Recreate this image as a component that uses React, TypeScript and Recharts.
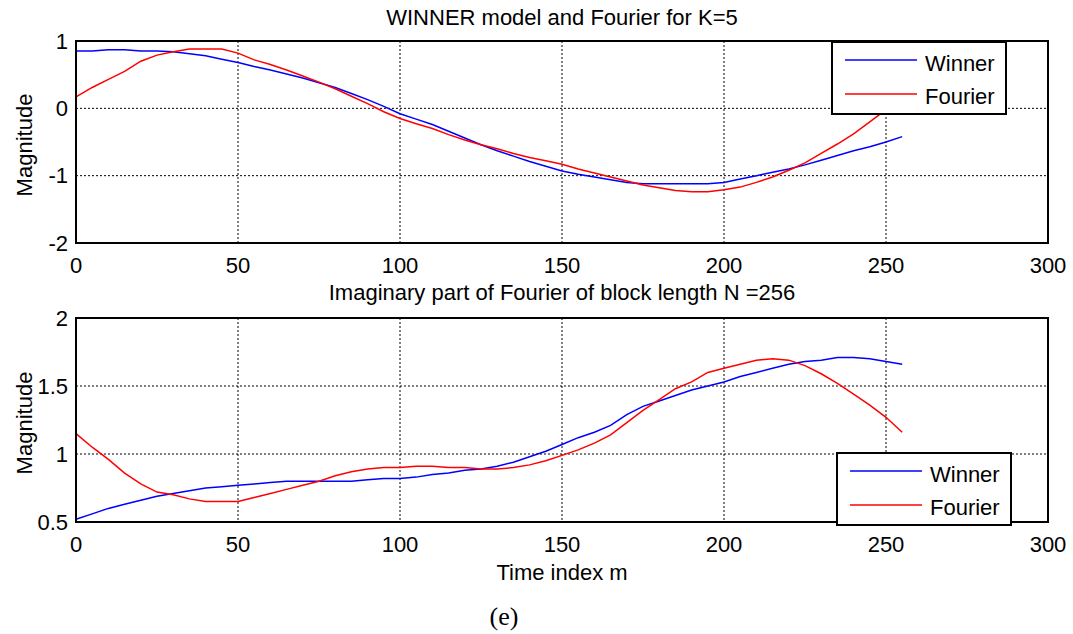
import { LineChart, Line, XAxis, YAxis, CartesianGrid, Legend, ReferenceArea } from 'recharts';

// time index m (samples read every 5 steps off the figure)
const TIME_INDEX = [
  0, 5, 10, 15, 20, 25, 30, 35, 40, 45, 50, 55, 60, 65, 70, 75, 80, 85, 90, 95,
  100, 105, 110, 115, 120, 125, 130, 135, 140, 145, 150, 155, 160, 165, 170, 175,
  180, 185, 190, 195, 200, 205, 210, 215, 220, 225, 230, 235, 240, 245, 250, 255,
];

// top panel: WINNER model and Fourier for K=5
const TOP_WINNER = [
  0.85, 0.85, 0.87, 0.87, 0.85, 0.85, 0.84, 0.81, 0.78, 0.73, 0.68, 0.62, 0.57, 0.51, 0.45, 0.38, 0.31, 0.22, 0.13, 0.03,
  -0.08, -0.16, -0.24, -0.34, -0.44, -0.54, -0.63, -0.71, -0.79, -0.86, -0.93, -0.98, -1.02, -1.06, -1.1, -1.12,
  -1.12, -1.12, -1.12, -1.12, -1.1, -1.05, -1.0, -0.95, -0.9, -0.84, -0.77, -0.7, -0.63, -0.57, -0.5, -0.42,
];
const TOP_FOURIER = [
  0.17, 0.31, 0.43, 0.55, 0.7, 0.79, 0.84, 0.88, 0.88, 0.88, 0.82, 0.72, 0.65, 0.57, 0.48, 0.39, 0.29, 0.18, 0.07, -0.05,
  -0.15, -0.23, -0.3, -0.39, -0.47, -0.54, -0.6, -0.67, -0.73, -0.78, -0.83, -0.9, -0.96, -1.02, -1.08, -1.14,
  -1.18, -1.22, -1.24, -1.24, -1.21, -1.17, -1.1, -1.02, -0.92, -0.81, -0.67, -0.53, -0.38, -0.2, -0.02, 0.15,
];

// bottom panel: imaginary part, N = 256
const BOTTOM_WINNER = [
  0.52, 0.56, 0.6, 0.63, 0.66, 0.69, 0.71, 0.73, 0.75, 0.76, 0.77, 0.78, 0.79, 0.8, 0.8, 0.8, 0.8, 0.8, 0.81, 0.82,
  0.82, 0.83, 0.85, 0.86, 0.88, 0.89, 0.91, 0.94, 0.98, 1.02, 1.07, 1.12, 1.16, 1.21, 1.29, 1.35,
  1.39, 1.43, 1.47, 1.5, 1.53, 1.57, 1.6, 1.63, 1.66, 1.68, 1.69, 1.71, 1.71, 1.7, 1.68, 1.66,
];
const BOTTOM_FOURIER = [
  1.15, 1.05, 0.96, 0.86, 0.78, 0.72, 0.7, 0.67, 0.65, 0.65, 0.65, 0.68, 0.71, 0.74, 0.77, 0.8, 0.84, 0.87, 0.89, 0.9,
  0.9, 0.91, 0.91, 0.9, 0.9, 0.89, 0.89, 0.9, 0.92, 0.95, 0.99, 1.03, 1.08, 1.14, 1.23, 1.32,
  1.4, 1.48, 1.53, 1.6, 1.63, 1.66, 1.69, 1.7, 1.69, 1.65, 1.59, 1.52, 1.44, 1.36, 1.27, 1.16,
];

const X_TICKS = [0, 50, 100, 150, 200, 250, 300];
const TOP_Y_TICKS = [-2, -1, 0, 1];
const BOTTOM_Y_TICKS = [0.5, 1, 1.5, 2];

const topData = TIME_INDEX.map((m, i) => ({ m, winner: TOP_WINNER[i], fourier: TOP_FOURIER[i] }));
const bottomData = TIME_INDEX.map((m, i) => ({ m, winner: BOTTOM_WINNER[i], fourier: BOTTOM_FOURIER[i] }));

const FONT = '"Liberation Sans", Arial, sans-serif';
const tickStyle = { fill: '#000', fontSize: 22, fontFamily: FONT };

function BoxLegend() {
  return (
    <svg width={176} height={74} style={{ display: 'block' }}>
      <rect x={1} y={1} width={174} height={72} fill="#fff" stroke="#000" strokeWidth={2} />
      <line x1={14} x2={86} y1={19} y2={19} stroke="#0000ff" strokeWidth={1.5} />
      <text x={94} y={30} fontSize={22} fontFamily={FONT} fill="#000">Winner</text>
      <line x1={14} x2={86} y1={53} y2={53} stroke="#ff0000" strokeWidth={1.5} />
      <text x={94} y={63} fontSize={22} fontFamily={FONT} fill="#000">Fourier</text>
    </svg>
  );
}

function yLabel(props: any) {
  const vb = props.viewBox;
  const cy = vb.y + vb.height / 2 + 3;
  return (
    <text
      x={32}
      y={cy}
      transform={`rotate(-90, 32, ${cy})`}
      textAnchor="middle"
      fontSize={22}
      fontFamily={FONT}
      fill="#000"
    >
      Magnitude
    </text>
  );
}

function Panel(props: {
  data: { m: number; winner: number; fourier: number }[];
  height: number;
  marginTop: number;
  marginBottom: number;
  xAxisHeight: number;
  yDomain: [number, number];
  yTicks: number[];
  legendPos: { left: number; top: number };
  xLabel?: string;
}) {
  const { data, height, marginTop, marginBottom, xAxisHeight, yDomain, yTicks, legendPos, xLabel } = props;
  return (
    <LineChart
      width={1073}
      height={height}
      data={data}
      margin={{ top: marginTop, right: 25, left: 0, bottom: marginBottom }}
    >
      <CartesianGrid stroke="#000" strokeDasharray="2 2" strokeWidth={1} />
      <XAxis
        dataKey="m"
        type="number"
        domain={[0, 300]}
        ticks={X_TICKS}
        interval={0}
        height={xAxisHeight}
        tick={tickStyle}
        tickLine={false}
        tickSize={0}
        tickMargin={14}
        axisLine={{ stroke: '#000', strokeWidth: 2 }}
        label={
          xLabel
            ? { value: xLabel, position: 'insideBottom', offset: 2, fill: '#000', fontSize: 22, fontFamily: FONT }
            : undefined
        }
      />
      <YAxis
        type="number"
        domain={yDomain}
        ticks={yTicks}
        interval={0}
        width={76}
        tick={tickStyle}
        tickLine={false}
        tickSize={0}
        tickMargin={8}
        allowDataOverflow
        axisLine={{ stroke: '#000', strokeWidth: 2 }}
        label={{ content: yLabel }}
      />
      <ReferenceArea
        x1={0}
        x2={300}
        y1={yDomain[0]}
        y2={yDomain[1]}
        fill="none"
        fillOpacity={0}
        stroke="#000"
        strokeWidth={2}
      />
      <Line
        type="linear"
        dataKey="winner"
        name="Winner"
        stroke="#0000ff"
        strokeWidth={1.5}
        dot={false}
        isAnimationActive={false}
      />
      <Line
        type="linear"
        dataKey="fourier"
        name="Fourier"
        stroke="#ff0000"
        strokeWidth={1.5}
        dot={false}
        isAnimationActive={false}
      />
      <Legend
        layout="vertical"
        align="center"
        verticalAlign="middle"
        content={<BoxLegend />}
        wrapperStyle={{ left: legendPos.left, top: legendPos.top, width: 176, height: 74, bottom: 'auto', right: 'auto' }}
      />
    </LineChart>
  );
}

export default function App() {
  return (
    <div
      style={{
        position: 'absolute',
        left: 0,
        top: 0,
        width: 1073,
        height: 634,
        background: '#fff',
        fontFamily: FONT,
        color: '#000',
      }}
    >
      <div
        style={{
          position: 'absolute',
          left: 0,
          width: 1124,
          top: 7,
          textAlign: 'center',
          fontSize: 22,
          lineHeight: '22px',
          whiteSpace: 'nowrap',
        }}
      >
        WINNER model and Fourier for K=5
      </div>
      <div style={{ position: 'absolute', left: 0, top: 0 }}>
        <Panel
          data={topData}
          height={290}
          marginTop={41}
          marginBottom={17}
          xAxisHeight={30}
          yDomain={[-2, 1]}
          yTicks={TOP_Y_TICKS}
          legendPos={{ left: 831, top: 41 }}
        />
      </div>
      <div
        style={{
          position: 'absolute',
          left: 0,
          width: 1124,
          top: 282,
          textAlign: 'center',
          fontSize: 22,
          lineHeight: '22px',
          whiteSpace: 'nowrap',
        }}
      >
        Imaginary part of Fourier of block length N =256
      </div>
      <div style={{ position: 'absolute', left: 0, top: 270 }}>
        <Panel
          data={bottomData}
          height={364}
          marginTop={48}
          marginBottom={52}
          xAxisHeight={60}
          yDomain={[0.5, 2]}
          yTicks={BOTTOM_Y_TICKS}
          legendPos={{ left: 836, top: 182 }}
          xLabel="Time index m"
        />
      </div>
      <div
        style={{
          position: 'absolute',
          left: 0,
          width: 1008,
          top: 604,
          textAlign: 'center',
          fontSize: 26,
          lineHeight: '26px',
          fontFamily: '"Liberation Serif", "Times New Roman", serif',
        }}
      >
        (e)
      </div>
    </div>
  );
}
